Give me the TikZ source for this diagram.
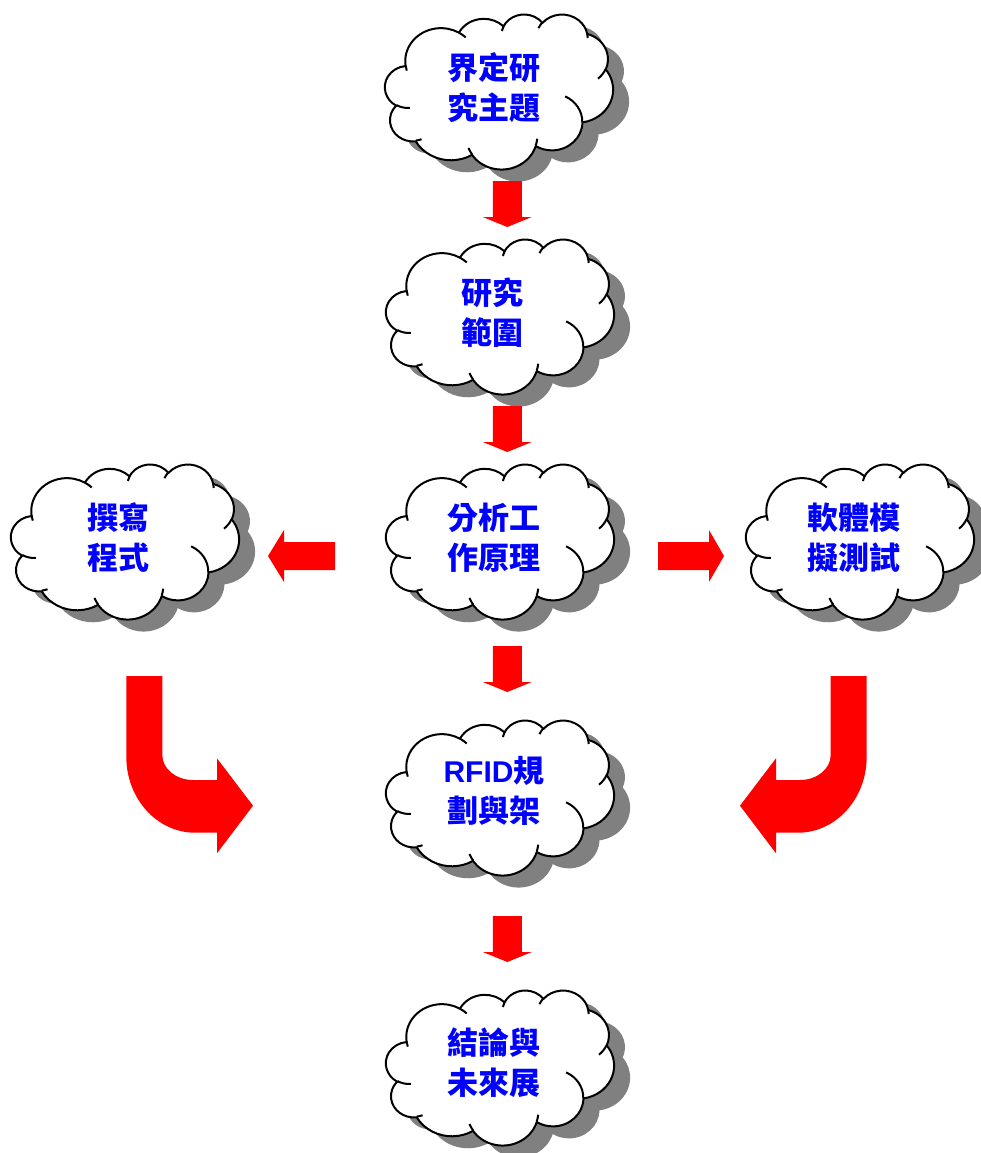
\documentclass[tikz,border=0pt]{standalone}
\usepackage{fontspec}
\newfontfamily\cjk{Noto Sans CJK TC}
\newfontfamily\latf{Liberation Sans}
\definecolor{arrowred}{HTML}{FF0000}
\definecolor{shadowgray}{HTML}{808080}
\definecolor{textblue}{HTML}{0000FF}
% visual (DrawingML) angle -> parametric angle
\newcommand\cang[3]{(#3)+atan(((#1)/(#2)-1)*sin(#3)*cos(#3)/(cos(#3)*cos(#3)+(#1)/(#2)*sin(#3)*sin(#3)))}
\newcommand\carc[4]{arc[x radius=#1, y radius=#2, start angle={\cang{#1}{#2}{#3}}, end angle={\cang{#1}{#2}{(#3)+(#4)}}]}
\newcommand\cloudouter{(39,143.7)
 \carc{67.53}{91.90}{-190.4875}{123.7805}
 \carc{53.33}{72.67}{-144.1024}{89.9452}
 \carc{43.65}{59.45}{-145.8079}{99.7230}
 \carc{48.57}{65.95}{-130.9861}{117.2417}
 \carc{53.33}{72.73}{-78.7089}{109.0269}
 \carc{67.75}{92.20}{-46.2673}{130.2690}
 \carc{57.85}{78.67}{0.6250}{114.0333}
 \carc{67.52}{92.15}{22.4516}{115.1726}
 \carc{77.20}{105.43}{66.2426}{75.7110}
 \carc{43.60}{59.18}{-274.9421}{146.7356}
 \carc{43.45}{59.45}{-246.8285}{152.5189} -- cycle}
\newcommand\cloudinner{
 (46.93,261.77) \carc{43.45}{59.45}{86.7420}{26.4295}
 (69.28,348.99) \carc{43.60}{59.18}{73.6105}{11.4475}
 (164.78,390.90) \carc{67.52}{92.15}{137.6241}{14.0811}
 (288.27,347.51) \carc{67.52}{92.15}{6.4533}{15.9984}
 (341.29,229.54) \carc{57.85}{78.67}{-70.2924}{70.9174}
 (417.98,153.54) \carc{53.33}{72.73}{30.3180}{27.7515}
 (383.24,54.26) \carc{48.57}{65.95}{-13.7443}{14.8589}
 (290.78,39.52) \carc{48.57}{65.95}{-149.1815}{18.1954}
 (221.41,47.20) \carc{43.65}{59.45}{-163.4943}{17.6864}
 (140.00,51.92) \carc{67.53}{91.90}{-66.7070}{12.3194}
 (41.27,157.89) \carc{67.53}{91.90}{157.6544}{11.8582}}
\tikzset{
 cloudunits/.style={x=0.52778pt,y=-0.35880pt},
 cloudline/.style={line width=2pt, draw=black, line join=round},
 cloudtext/.style={text=textblue, font=\cjk\bfseries\fontsize{31}{40}\selectfont, align=center, inner sep=0pt},
 blockarrow/.style={fill=arrowred, draw=none}
}
\newcommand\cloudat[2]{%
 \begin{scope}[shift={(#1+16,#2+12)}, cloudunits]
  \fill[shadowgray] \cloudouter;
 \end{scope}
 \begin{scope}[shift={(#1,#2)}, cloudunits]
  \filldraw[fill=white, cloudline] \cloudouter;
  \draw[cloudline] \cloudinner;
 \end{scope}}
\newcommand\darrow[2]{\fill[blockarrow] (#1-14.5,#2) -- (#1+14.5,#2) -- (#1+14.5,#2+36) -- (#1+24.5,#2+36) -- (#1,#2+46) -- (#1-24.5,#2+36) -- (#1-14.5,#2+36) -- cycle;}
\newcommand\bentarrow{(830.7,676) -- (866.7,676) -- (866.7,756.7)
 arc[start angle=0, end angle=90, x radius=68.7, y radius=76]
 -- (776,832.7) -- (776,853.3) -- (740,805.7) -- (776,758.3) -- (776,780) -- (800,780)
 arc[start angle=90, end angle=0, x radius=30.7, y radius=25] -- cycle}
\begin{document}
\begin{tikzpicture}[x=1pt,y=-1pt]
\useasboundingbox (0,0) rectangle (981,1153);
% clouds
\cloudat{385}{14}
\cloudat{386}{239}
\cloudat{386}{464}
\cloudat{11}{464}
\cloudat{746}{464}
\cloudat{386}{720}
\cloudat{386}{990}
% texts
\node[cloudtext] (topic) at (494,88) {界定研\\究主題};
\node[cloudtext] (scope) at (492,313) {研究\\範圍};
\node[cloudtext] (analysis) at (494,538) {分析工\\作原理};
\node[cloudtext] (program) at (118,538) {撰寫\\程式};
\node[cloudtext] (simulate) at (854,538) {軟體模\\擬測試};
\node[cloudtext] (rfid) at (494,791) {{\latf\bfseries\fontsize{30}{40}\selectfont RFID}規\\劃與架};
\node[cloudtext] (concl) at (494,1063) {結論與\\未來展};
% straight arrows
\darrow{507.3}{181}
\darrow{507.3}{406}
\darrow{507.3}{646}
\darrow{507.3}{916}
\fill[blockarrow] (335,542) -- (284,542) -- (284,530) -- (268,556) -- (284,582) -- (284,570) -- (335,570) -- cycle;
\fill[blockarrow] (658,542) -- (709,542) -- (709,530) -- (724,556) -- (709,582) -- (709,570) -- (658,570) -- cycle;
% bent arrows
\fill[blockarrow] \bentarrow;
\begin{scope}[shift={(993,0)}, xscale=-1]
\fill[blockarrow] \bentarrow;
\end{scope}
\end{tikzpicture}
\end{document}
